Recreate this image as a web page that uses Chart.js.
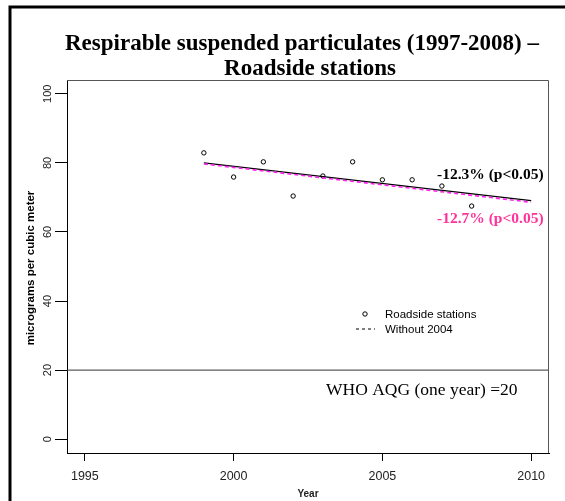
<!DOCTYPE html>
<html>
<head>
<meta charset="utf-8">
<script src="https://cdn.jsdelivr.net/npm/chart.js@4.4.0/dist/chart.umd.min.js"></script>
<style>
  html, body { margin: 0; padding: 0; background: #fff; }
  #wrap { width: 565px; height: 501px; position: relative; }
</style>
</head>
<body>
<div id="wrap"><canvas id="myChart" width="565" height="501"></canvas></div>
<script>
// values
const years = [1999, 2000, 2001, 2002, 2003, 2004, 2005, 2006, 2007, 2008]
const roadside = [82.9, 75.9, 80.3, 70.4, 76.2, 80.3, 75.1, 75.1, 73.3, 67.5]
const trendYears = [1999, 2010]
const trendAll = [80.0, 69.1]
const trendWithout2004 = [79.7, 68.6]
const whoLimit = 20
const xTicks = [1995, 2000, 2005, 2010]
const yTicks = [0, 20, 40, 60, 80, 100]
const xRange = [1994.4, 2010.6]
const yRange = [-4, 104]

const titleLines = ['Respirable suspended particulates (1997-2008) \u2013', 'Roadside stations']
const legendLabels = ['Roadside stations', 'Without 2004']
const allLabel = '-12.3% (p<0.05)'
const withoutLabel = '-12.7% (p<0.05)'
const whoLabel = 'WHO AQG (one year) =20'

const serif = '"Liberation Serif", "Times New Roman", serif'
const sans = '"Liberation Sans", Arial, sans-serif'

const toXY = (xs, ys) => xs.map((x, i) => ({ x: x, y: ys[i] }))

// extra drawing: frame, title, labels, legend
const decorations = {
    id: 'decorations',
    afterDraw(chart) {
        const ctx = chart.ctx
        const ys = chart.scales.y
        const a = chart.chartArea
        ctx.save()

        // outer frame
        ctx.strokeStyle = '#000'
        ctx.lineWidth = 3
        ctx.beginPath()
        ctx.moveTo(10, 501)
        ctx.lineTo(10, 7)
        ctx.lineTo(565, 7)
        ctx.stroke()

        // plot box
        ctx.strokeStyle = '#555'
        ctx.lineWidth = 1
        ctx.beginPath()
        ctx.moveTo(a.left, a.top + 0.5)
        ctx.lineTo(a.right - 0.5, a.top + 0.5)
        ctx.lineTo(a.right - 0.5, a.bottom)
        ctx.stroke()

        // title
        ctx.fillStyle = '#000'
        ctx.textAlign = 'center'
        ctx.textBaseline = 'alphabetic'
        ctx.font = 'bold 23px ' + serif
        const cx = (a.left + a.right) / 2
        ctx.fillText(titleLines[0], 302, 50)
        ctx.fillText(titleLines[1], 310, 75)

        // y tick labels (rotated)
        ctx.textBaseline = 'middle'
        ctx.font = '11px ' + sans
        ctx.fillStyle = '#222'
        yTicks.forEach(v => {
            ctx.save()
            ctx.translate(48, ys.getPixelForValue(v))
            ctx.rotate(-Math.PI / 2)
            ctx.fillText(String(v), 0, 0)
            ctx.restore()
        })

        // y axis title
        ctx.save()
        ctx.font = 'bold 11.5px ' + sans
        ctx.fillStyle = '#000'
        ctx.translate(31, 268)
        ctx.rotate(-Math.PI / 2)
        ctx.fillText('micrograms per cubic meter', 0, 0)
        ctx.restore()

        // x axis title
        ctx.font = 'bold 10px ' + sans
        ctx.fillText('Year', cx, 494)

        // trend labels
        ctx.textAlign = 'left'
        ctx.font = 'bold 15.5px ' + serif
        ctx.fillStyle = '#000'
        ctx.fillText(allLabel, 437, 175)
        ctx.fillStyle = '#ff3399'
        ctx.fillText(withoutLabel, 437, 219)

        // WHO label
        ctx.fillStyle = '#000'
        ctx.font = '17.5px ' + serif
        ctx.fillText(whoLabel, 326, 390)

        // legend
        ctx.font = '11.5px ' + sans
        ctx.fillStyle = '#000'
        ctx.strokeStyle = '#000'
        ctx.lineWidth = 1
        ctx.beginPath()
        ctx.arc(365, 314, 2.2, 0, Math.PI * 2)
        ctx.stroke()
        ctx.fillText(legendLabels[0], 385, 315)
        ctx.setLineDash([3, 3])
        ctx.beginPath()
        ctx.moveTo(356, 329)
        ctx.lineTo(375, 329)
        ctx.stroke()
        ctx.setLineDash([])
        ctx.fillText(legendLabels[1], 385, 330)

        ctx.restore()
    }
}

const ctx = document.getElementById('myChart').getContext('2d')
const myChart = new Chart(ctx, {
    type: 'scatter',
    data: {
        datasets: [{
            label: 'WHO',
            data: toXY(xRange, [whoLimit, whoLimit]),
            showLine: true,
            borderColor: '#333',
            borderWidth: 1,
            pointRadius: 0
        }, {
            label: 'Without 2004 trend',
            data: toXY(trendYears, trendWithout2004),
            showLine: true,
            borderColor: '#ff22ee',
            borderWidth: 1.6,
            borderDash: [4, 3],
            pointRadius: 0
        }, {
            label: 'Trend',
            data: toXY(trendYears, trendAll),
            showLine: true,
            borderColor: '#000',
            borderWidth: 1.3,
            pointRadius: 0
        }, {
            label: legendLabels[0],
            data: toXY(years, roadside),
            showLine: false,
            pointStyle: 'circle',
            pointRadius: 2.2,
            pointBorderWidth: 1,
            pointBorderColor: '#000',
            pointBackgroundColor: 'rgba(0,0,0,0)'
        }]
    },
    options: {
        responsive: false,
        animation: false,
        devicePixelRatio: 1,
        layout: { padding: { top: 80, right: 16, left: 0, bottom: 0 } },
        plugins: {
            legend: { display: false },
            tooltip: { enabled: false }
        },
        scales: {
            x: {
                type: 'linear',
                min: xRange[0],
                max: xRange[1],
                afterBuildTicks: scale => { scale.ticks = xTicks.map(v => ({ value: v })) },
                afterFit: scale => { scale.height = 48 },
                grid: { drawOnChartArea: false, drawTicks: true, tickLength: 8, color: '#000' },
                border: { display: true, color: '#000', width: 1 },
                ticks: {
                    color: '#222',
                    font: { family: sans, size: 12.5 },
                    padding: 8,
                    maxRotation: 0,
                    callback: v => String(v)
                }
            },
            y: {
                type: 'linear',
                min: yRange[0],
                max: yRange[1],
                afterBuildTicks: scale => { scale.ticks = yTicks.map(v => ({ value: v })) },
                afterFit: scale => { scale.width = 67 },
                grid: { drawOnChartArea: false, drawTicks: true, tickLength: 12, color: '#000' },
                border: { display: true, color: '#000', width: 1 },
                ticks: { display: false }
            }
        }
    },
    plugins: [decorations]
})
</script>
</body>
</html>
